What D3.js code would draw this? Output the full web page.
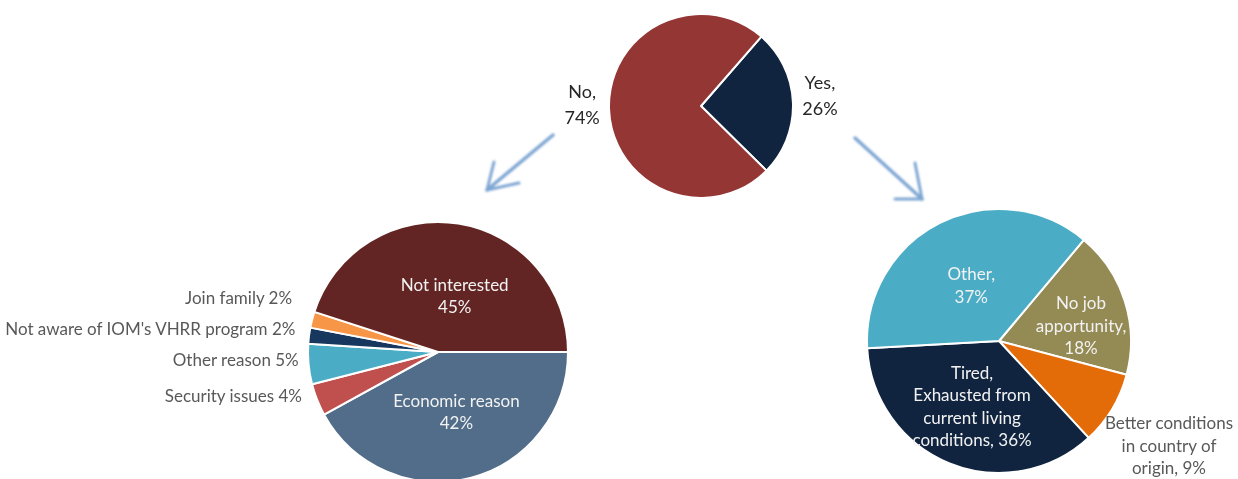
<!DOCTYPE html>
<html>
<head>
<meta charset="utf-8">
<script src="https://cdn.jsdelivr.net/npm/d3@7"></script>
<style>
  html, body { margin: 0; padding: 0; background: #ffffff; }
  svg { display: block; font-family: Lato, "Noto Sans", sans-serif; }
</style>
</head>
<body>
<svg id="chart" width="1238" height="479"></svg>
<script>
// Willingness to return
const topCategories = ["Yes", "No"];
const topValues = [26, 74];
const topLabels = [["Yes,", "26%"], ["No,", "74%"]];

// Reasons for not wanting to return (clockwise from 3 o'clock)
const noReasons = ["Economic reason", "Security issues", "Other reason", "Not aware of IOM's VHRR program", "Join family", "Not interested"];
const noValues = [42, 4, 5, 2, 2, 45];

// Reasons for wanting to return (clockwise from upper right)
const yesReasons = ["No job apportunity", "Better conditions in country of origin", "Tired, Exhausted from current living conditions", "Other"];
const yesValues = [18, 9, 36, 37];
const yesLabels = [
  ["No job", "apportunity,", "18%"],
  ["Better conditions", "in country of", "origin, 9%"],
  ["Tired,", "Exhausted from", "current living", "conditions, 36%"],
  ["Other,", "37%"]
];

const svg = d3.select("#chart");
const deg = d => d * Math.PI / 180;

const defs = svg.append("defs");
defs.append("filter").attr("id", "soft")
  .attr("x", "-20%").attr("y", "-20%").attr("width", "140%").attr("height", "140%")
  .append("feGaussianBlur").attr("stdDeviation", 0.9);
defs.append("filter").attr("id", "textsoft")
  .append("feGaussianBlur").attr("stdDeviation", 0.35);

function drawPie(cfg) {
  const pie = d3.pie().sort(null).value(d => d)
    .startAngle(deg(cfg.start)).endAngle(deg(cfg.start) + 2 * Math.PI);
  const arcs = pie(cfg.values);
  const arc = d3.arc().innerRadius(0).outerRadius(cfg.r);
  const g = svg.append("g").attr("transform", `translate(${cfg.cx},${cfg.cy})`);
  g.selectAll("path").data(arcs).join("path")
    .attr("d", arc)
    .attr("fill", (d, i) => cfg.colors[i])
    .attr("stroke", "#ffffff")
    .attr("stroke-width", 2)
    .attr("stroke-linejoin", "round");
  return { g, arcs };
}

// Top pie: Yes / No
const topPie = drawPie({
  cx: 701, cy: 106, r: 92, start: 41,
  values: topValues, colors: ["#10243f", "#943634"]
});
topPie.g.selectAll("text.lbl").data(topPie.arcs).join("text")
  .attr("class", "lbl")
  .attr("text-anchor", "middle")
  .attr("font-size", 18)
  .attr("fill", "#262626")
  .attr("filter", "url(#textsoft)")
  .each(function (d, i) {
    const mid = (d.startAngle + d.endAngle) / 2;
    const rho = 92 + 27;
    const x = rho * Math.sin(mid), y = -rho * Math.cos(mid);
    const lines = topLabels[i];
    d3.select(this).selectAll("tspan").data(lines).join("tspan")
      .attr("x", x)
      .attr("y", (t, k) => y - 6 + (k - (lines.length - 1) / 2) * 26)
      .attr("dy", "0.35em")
      .text(t => t);
  });

// Left pie: reasons for "No"
const noColors = ["#516d89", "#c0504d", "#4bacc6", "#17375e", "#f79646", "#632523"];
const noPie = drawPie({ cx: 438, cy: 352, r: 130, start: 90, values: noValues, colors: noColors });

// inside labels for the two big slices
const noInside = { 0: ["Economic reason", "42%"], 5: ["Not interested", "45%"] };
noPie.g.selectAll("text.in").data(noPie.arcs.filter((d, i) => noInside[i]))
  .join("text").attr("class", "in")
  .attr("text-anchor", "middle").attr("font-size", 17).attr("fill", "#f2f2f2")
  .attr("filter", "url(#textsoft)")
  .each(function (d) {
    const lines = noInside[d.index];
    const mid = (d.startAngle + d.endAngle) / 2;
    const rho = 62;
    const x = rho * Math.sin(mid) + (d.index === 5 ? 7 : 3);
    const y = -rho * Math.cos(mid) + (d.index === 5 ? 5 : 0);
    d3.select(this).selectAll("tspan").data(lines).join("tspan")
      .attr("x", x)
      .attr("y", (t, k) => y + (k - 0.5) * 22)
      .attr("dy", "0.35em").text(t => t);
  });

// outside labels for the small slices, stacked upward without overlap
const small = noPie.arcs.filter(d => d.index >= 1 && d.index <= 4);
let prevY = Infinity;
const smallPos = small.map(d => {
  const mid = (d.startAngle + d.endAngle) / 2;
  let y = -130 * Math.cos(mid) - 4;
  if (y > prevY - 31) y = prevY - 31;
  prevY = y;
  return { d, y };
});
noPie.g.selectAll("text.out").data(smallPos).join("text").attr("class", "out")
  .attr("text-anchor", "end").attr("font-size", 17).attr("fill", "#595959")
  .attr("filter", "url(#textsoft)")
  .attr("x", p => -130 - 6 - (p.d.index - 1) * 3.3)
  .attr("y", p => p.y).attr("dy", "0.35em")
  .text(p => `${noReasons[p.d.index]} ${noValues[p.d.index]}%`);

// Right pie: reasons for "Yes"
const yesColors = ["#948a54", "#e36c09", "#10243f", "#4bacc6"];
const yesPie = drawPie({ cx: 999, cy: 341, r: 132, start: 40, values: yesValues, colors: yesColors });
const yesRho = [86, 203, 72, 62];
const yesShift = [11, 0, -1, 0];
const yesFill = ["#f2f2f2", "#595959", "#f2f2f2", "#f2f2f2"];
yesPie.g.selectAll("text.in").data(yesPie.arcs).join("text").attr("class", "in")
  .attr("text-anchor", "middle").attr("font-size", 17)
  .attr("fill", (d, i) => yesFill[i])
  .attr("filter", "url(#textsoft)")
  .each(function (d, i) {
    const lines = yesLabels[i];
    const mid = (d.startAngle + d.endAngle) / 2;
    const x = yesRho[i] * Math.sin(mid) - (i === 1 ? 4 : 0);
    const y = -yesRho[i] * Math.cos(mid) + yesShift[i];
    d3.select(this).selectAll("tspan").data(lines).join("tspan")
      .attr("x", x)
      .attr("y", (t, k) => y + (k - (lines.length - 1) / 2) * 22.5)
      .attr("dy", "0.35em").text(t => t);
  });

// Arrows from the top pie to each breakdown
const arrows = [
  { shaft: [[553, 135], [487, 190]], heads: [[[487, 190], [494, 162]], [[487, 190], [519, 183]]] },
  { shaft: [[855, 138], [922, 199]], heads: [[[922, 199], [915, 163]], [[922, 199], [895, 199]]] }
];
const ag = svg.append("g").attr("filter", "url(#soft)")
  .attr("stroke", "#7ea6d3").attr("stroke-linecap", "round").attr("fill", "none");
arrows.forEach(a => {
  ag.append("path").attr("d", d3.line()(a.shaft)).attr("stroke-width", 3.5);
  a.heads.forEach(h => ag.append("path").attr("d", d3.line()(h)).attr("stroke-width", 3));
});
</script>
</body>
</html>
